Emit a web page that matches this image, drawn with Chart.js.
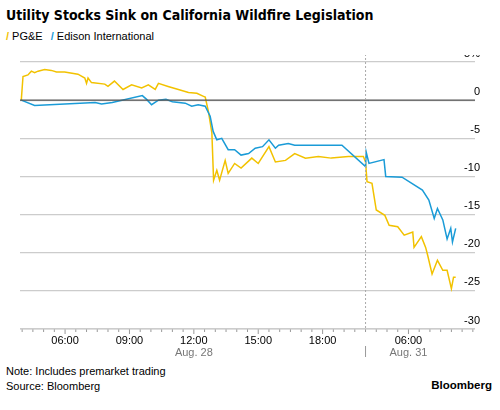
<!DOCTYPE html>
<html><head><meta charset="utf-8">
<script src="https://cdn.jsdelivr.net/npm/chart.js@4"></script>
<style>
body{margin:0;width:500px;height:410px;font-family:"Liberation Sans",Arial,sans-serif;background:#fff;position:relative;overflow:hidden}
#t{position:absolute;left:6px;top:7px;font:bold 14px "DejaVu Sans Condensed","DejaVu Sans",sans-serif;color:#000}
#lg{position:absolute;left:6px;top:30px;font-size:11px;color:#000}
#lg span{margin-right:8px}
.m1{color:#f2c200;font-weight:bold}.m2{color:#1a9bd7;font-weight:bold}
#wrap{position:absolute;left:0;top:55px;width:500px;height:305px}
#n{position:absolute;left:6px;top:364px;font-size:11px;line-height:15px}
#b{position:absolute;right:8px;top:379px;font-size:11.5px;font-weight:bold}
</style></head><body>
<div id="t">Utility Stocks Sink on California Wildfire Legislation</div>
<div id="lg"><span><b class="m1">/</b> PG&amp;E</span><span><b class="m2">/</b> Edison International</span></div>
<div id="wrap"><canvas id="c"></canvas></div>
<div id="n">Note: Includes premarket trading<br>Source: Bloomberg</div>
<div id="b">Bloomberg</div>
<script>
// x = hour position (Aug 28 04:00..20:00, then Aug 31 starting at 20 = 04:00)
const pgeX=[3.96,4.04,4.27,4.43,4.58,4.74,5.05,5.36,5.6,5.98,6.6,6.92,7.0,7.07,7.23,7.85,8.0,8.3,8.7,9.1,9.57,9.88,10.2,10.35,10.8,11.28,11.75,12.14,12.45,12.53,12.68,12.84,12.92,13.07,13.2,13.46,13.6,13.9,14.2,14.7,15.0,15.5,15.8,16.27,16.7,17.2,17.8,18.4,19.2,19.9,20.0,20.07,20.3,20.5,20.9,21.1,21.5,21.8,22.2,22.26,22.6,22.8,22.9,23.1,23.35,23.6,23.8,24.0,24.1,24.2];
const pgeY=[0,3.1,3.3,3.8,3.6,3.8,4.0,3.9,3.7,3.7,3.4,2.9,2.2,2.9,2.3,2.1,1.8,2.5,1.4,2.0,1.6,2.0,1.4,2.2,1.8,1.4,1.0,0.9,0.5,0.4,-1.5,-4.3,-10.5,-9.2,-10.5,-7.9,-9.6,-8.3,-8.9,-7.6,-8.3,-6.1,-8.1,-7.9,-7.0,-7.6,-7.4,-7.6,-7.4,-7.4,-8.1,-10.7,-10.9,-14.4,-15.1,-16.4,-16.6,-17.7,-17.3,-19.3,-17.9,-19.3,-20.4,-22.8,-21.0,-22.3,-22.3,-24.7,-23.2,-23.2];
const eixX=[3.96,4.58,7.4,7.7,8.2,9.6,9.8,10.03,10.35,10.7,11.0,11.6,11.9,12.2,12.53,12.76,12.9,13.07,13.3,13.6,13.9,14.2,14.55,14.86,15.2,15.5,15.8,15.95,16.4,16.7,18.9,20.0,20.03,20.16,20.86,20.94,21.7,22.65,22.95,23.2,23.35,23.6,23.8,23.97,24.05,24.2];
const eixY=[0,-0.7,-0.3,-0.5,-0.3,0.6,0.1,-0.6,0.0,0.1,-0.2,-0.4,-0.8,-0.6,-0.8,-2.1,-4.1,-5.2,-5.0,-6.5,-6.5,-7.2,-7.0,-6.3,-6.1,-5.2,-6.3,-5.9,-5.7,-5.9,-5.9,-8.7,-6.8,-8.3,-7.8,-10.0,-10.1,-11.8,-13.1,-15.5,-14.2,-15.7,-18.2,-16.8,-18.6,-16.8];
const yTicks=[5,0,-5,-10,-15,-20,-25,-30];
const yLabels=['5%','0','-5','-10','-15','-20','-25','-30'];
const xTickPos=[6,9,12,15,18,22];
const xTickText=['06:00','09:00','12:00','15:00','18:00','06:00'];
const dateLabels={12:'Aug. 28',22:'Aug. 31'};
const breakX=20;

const pts=(xs,ys)=>xs.map((x,i)=>({x,y:ys[i]}));
const deco={id:'deco',afterDraw(ch){
  const c=ch.ctx,x=ch.scales.x,y=ch.scales.y,a=ch.chartArea;
  c.save();
  c.strokeStyle='#555';c.lineWidth=1.2;c.beginPath();c.moveTo(a.left,y.getPixelForValue(0));c.lineTo(a.right,y.getPixelForValue(0));c.stroke();
  c.fillStyle='#000';c.font='11px "Liberation Sans",Arial';c.textAlign='right';c.textBaseline='bottom';
  yTicks.forEach((v,i)=>c.fillText(yLabels[i],a.right+5,y.getPixelForValue(v)-3));
  const bx=x.getPixelForValue(breakX);
  c.strokeStyle='#aaa';c.lineWidth=1;c.setLineDash([2,2]);c.beginPath();c.moveTo(bx,a.top-8);c.lineTo(bx,a.bottom);c.stroke();
  c.setLineDash([]);c.strokeStyle='#999';c.beginPath();c.moveTo(bx,a.bottom+17);c.lineTo(bx,a.bottom+28);c.stroke();
  c.strokeStyle='#999';
  for(let h=4;h<=25;h+=0.5){const px=x.getPixelForValue(h);c.beginPath();c.moveTo(px,a.bottom);c.lineTo(px,a.bottom+(xTickPos.includes(h)?5:3));c.stroke();}
  c.strokeStyle='#ccc';c.beginPath();c.moveTo(a.left,a.bottom);c.lineTo(a.right,a.bottom);c.stroke();
  c.textAlign='center';c.textBaseline='top';
  xTickPos.forEach((h,i)=>{const px=x.getPixelForValue(h);c.fillStyle='#000';c.fillText(xTickText[i],px,a.bottom+6);
    if(dateLabels[h]){c.fillStyle='#777';c.fillText(dateLabels[h],px,a.bottom+18);}});
  c.restore();
}};
new Chart(document.getElementById('c'),{type:'line',
 data:{datasets:[
  {data:pts(eixX,eixY),borderColor:'#1a9bd7',borderWidth:1.5,pointRadius:0,tension:0},
  {data:pts(pgeX,pgeY),borderColor:'#f2c200',borderWidth:1.5,pointRadius:0,tension:0}]},
 options:{responsive:true,maintainAspectRatio:false,animation:false,
  layout:{padding:{left:20,right:25,top:7,bottom:31}},
  plugins:{legend:{display:false},tooltip:{enabled:false}},
  scales:{
   x:{type:'linear',min:3.9,max:25.1,display:false},
   y:{min:-30,max:5,display:true,position:'right',
      afterBuildTicks(s){s.ticks=yTicks.map(v=>({value:v}));},
      ticks:{display:false},border:{display:false},
      grid:{color:'#ccc',lineWidth:1.2,drawTicks:false}}}},
 plugins:[deco]});
</script></body></html>
